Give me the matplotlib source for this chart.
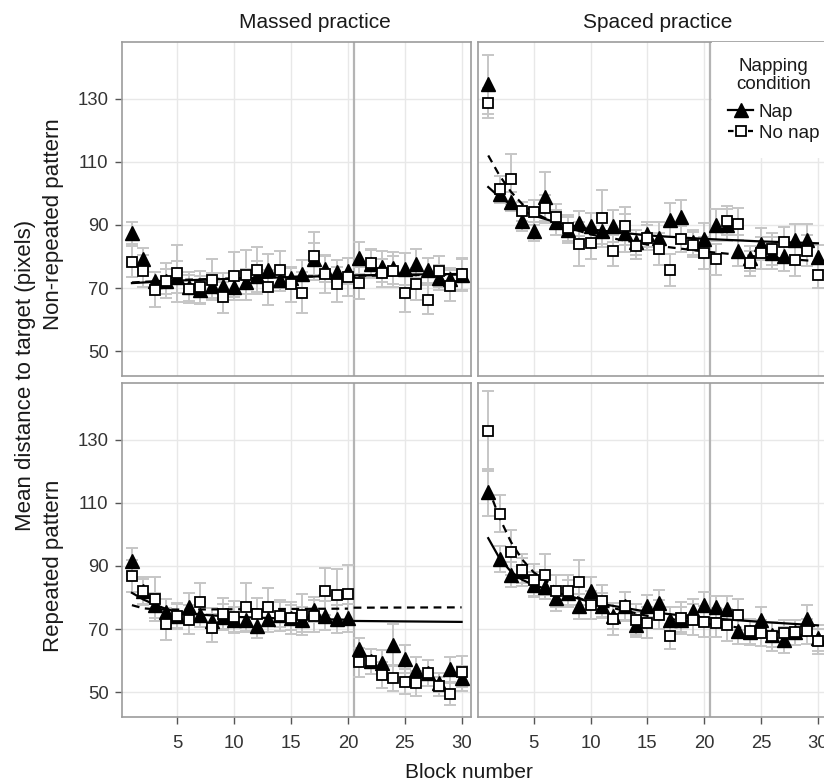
import numpy as np
import matplotlib
matplotlib.use('Agg')
import matplotlib.pyplot as plt
from matplotlib.lines import Line2D

plt.rcParams['font.family'] = ['Liberation Sans', 'DejaVu Sans']

W, H = 824, 784
blocks = np.arange(1, 31)

# massed practice, non-repeated pattern
mn_nap = [87.4, 79.1, 72.2, 72.2, 73.5, 70.5, 69.5, 70.8, 70.7, 70.3, 72.0, 73.7, 75.8, 72.7, 73.3,
          74.5, 79.3, 76.1, 75.0, 75.4, 79.5, 77.7, 76.8, 76.3, 76.1, 77.8, 75.6, 73.3, 73.0, 74.2]
mn_nap_err = [3.5, 3.5, 3.0, 4.0, 5.0, 4.5, 4.5, 4.0, 4.0, 3.0, 4.0, 5.0, 5.0, 3.5, 3.0,
              4.5, 5.0, 4.0, 4.0, 4.0, 5.0, 4.5, 5.0, 5.0, 5.0, 4.5, 4.0, 4.0, 3.5, 5.0]
mn_nonap = [78.4, 75.4, 69.5, 72.4, 74.7, 69.8, 70.3, 72.6, 67.1, 73.9, 74.2, 75.6, 70.3, 75.9, 71.2,
            68.6, 80.2, 74.5, 71.2, 73.5, 71.6, 77.9, 74.8, 75.3, 68.4, 71.4, 66.4, 75.3, 70.8, 74.5]
mn_nonap_err = [5.0, 5.0, 5.5, 5.5, 9.0, 4.5, 5.0, 6.5, 5.0, 7.5, 8.0, 7.5, 5.5, 6.0, 5.5,
                6.5, 7.5, 6.0, 5.5, 6.0, 5.0, 4.5, 4.5, 5.0, 6.0, 5.0, 4.5, 5.0, 5.0, 5.0]

# spaced practice, non-repeated pattern
sn_nap = [134.5, 99.8, 97.4, 91.1, 88.0, 98.7, 90.8, 88.4, 90.5, 89.7, 88.0, 89.7, 87.6, 84.5, 87.0,
          85.9, 91.6, 92.4, 84.5, 85.6, 90.0, 90.0, 81.9, 79.5, 84.0, 81.1, 80.3, 85.4, 85.4, 79.8]
sn_nap_err = [9.3, 3.0, 3.0, 3.0, 3.0, 8.0, 4.0, 4.0, 4.0, 4.0, 4.0, 5.0, 6.0, 4.0, 4.0,
              5.0, 5.5, 5.5, 4.0, 5.0, 5.0, 5.0, 5.0, 4.0, 5.0, 5.0, 5.0, 5.0, 5.0, 4.0]
sn_nonap = [128.5, 101.4, 104.5, 94.3, 94.0, 95.4, 92.6, 89.0, 84.0, 84.3, 92.1, 81.9, 89.8, 83.2, 86.0,
            82.4, 75.8, 85.6, 83.8, 81.2, 79.1, 91.4, 90.3, 77.9, 81.2, 82.4, 84.5, 78.9, 81.9, 74.2]
sn_nonap_err = [4.7, 4.0, 8.0, 3.0, 4.0, 4.0, 4.0, 4.0, 7.0, 5.0, 9.0, 5.0, 6.0, 4.0, 4.0,
                5.0, 5.0, 4.0, 4.0, 5.0, 5.0, 4.5, 5.0, 4.0, 5.0, 5.0, 5.0, 5.0, 5.0, 4.0]

# massed practice, repeated pattern
mr_nap = [91.6, 82.0, 77.5, 75.4, 74.3, 77.0, 74.6, 72.7, 73.9, 73.0, 73.0, 71.1, 73.2, 74.6, 73.6,
          73.0, 76.2, 74.3, 73.2, 73.6, 63.7, 59.8, 59.3, 65.1, 60.5, 57.1, 56.1, 53.1, 57.3, 54.5]
mr_nap_err = [4.0, 4.0, 4.0, 4.0, 4.0, 4.5, 4.0, 4.0, 4.0, 4.0, 4.0, 4.0, 4.0, 4.0, 4.0,
              4.0, 4.0, 4.5, 4.5, 4.5, 3.5, 4.0, 4.0, 6.5, 4.5, 4.0, 4.0, 3.0, 4.0, 4.0]
mr_nonap = [86.8, 82.0, 79.6, 71.7, 74.1, 73.0, 78.5, 70.4, 74.8, 73.9, 77.0, 74.8, 77.0, 74.3, 73.5,
            74.6, 74.1, 82.0, 80.7, 81.2, 59.5, 59.8, 55.5, 54.5, 53.4, 52.9, 56.1, 52.0, 49.5, 56.6]
mr_nonap_err = [5.0, 4.5, 7.0, 5.0, 4.0, 4.5, 6.0, 4.5, 5.0, 5.0, 7.5, 5.0, 6.0, 5.0, 5.0,
                6.5, 5.0, 7.5, 8.5, 9.0, 4.5, 4.0, 4.0, 4.0, 4.0, 4.0, 4.0, 3.0, 3.5, 5.0]

# spaced practice, repeated pattern
sr_nap = [113.3, 92.2, 87.2, 88.5, 84.1, 83.5, 79.8, 81.6, 77.2, 82.0, 77.4, 74.2, 77.2, 71.4, 77.2,
          78.3, 73.0, 73.0, 75.6, 77.7, 76.9, 76.4, 69.3, 69.0, 73.0, 68.2, 66.6, 69.0, 73.2, 67.2]
sr_nap_err = [7.5, 4.0, 4.0, 4.0, 4.0, 4.0, 4.0, 4.0, 4.0, 4.5, 4.0, 4.0, 4.5, 4.0, 3.5,
              4.0, 4.0, 4.0, 4.0, 4.0, 3.5, 4.0, 4.0, 4.0, 4.0, 4.0, 4.0, 4.0, 4.5, 4.0]
sr_nonap = [132.6, 106.6, 94.3, 88.8, 85.6, 87.2, 82.0, 82.0, 84.8, 77.7, 79.0, 73.3, 77.4, 73.0, 72.1,
            74.6, 67.7, 73.5, 73.0, 72.4, 72.1, 71.4, 74.6, 69.3, 68.8, 67.7, 68.8, 69.0, 69.3, 66.1]
sr_nonap_err = [12.7, 6.0, 7.0, 5.0, 5.0, 6.5, 5.0, 5.0, 7.0, 4.5, 5.0, 5.0, 4.5, 5.0, 5.0,
                4.5, 4.0, 5.0, 5.0, 5.0, 4.5, 5.0, 5.0, 4.0, 4.0, 4.5, 4.0, 4.0, 4.0, 4.0]

# fitted curves (segments split at the 20.5 break where they are)
mn_fit = {'nap': [([1, 5, 10, 15, 20, 25, 30], [71.6, 72.4, 73.0, 73.5, 74.0, 74.3, 74.5])],
          'nonap': [([1, 5, 10, 15, 20, 25, 30], [71.8, 72.6, 73.1, 73.6, 73.9, 74.1, 74.3])]}
fit_x_sp = [1, 2, 3, 4, 5, 7, 10, 15, 20, 25, 30]
sn_fit = {'nap': [(fit_x_sp, [102.0, 98.8, 96.5, 94.6, 93.0, 90.8, 88.6, 86.7, 85.6, 84.8, 84.2])],
          'nonap': [(fit_x_sp, [112.0, 105.6, 100.5, 96.6, 94.0, 90.3, 87.0, 83.8, 81.6, 79.9, 78.5])]}
mr_fit = {'nap': [([1, 2, 3, 4, 5, 7, 10, 15, 20], [81.5, 79.4, 77.8, 76.4, 75.5, 74.6, 73.9, 73.3, 73.0]),
                  ([20.5, 30], [72.6, 72.3])],
          'nonap': [([1, 2, 3, 5, 10, 15, 20], [77.6, 76.6, 76.3, 76.2, 76.3, 76.4, 76.5]),
                    ([20.5, 30], [76.8, 76.9])]}
sr_fit = {'nap': [(fit_x_sp, [98.8, 92.4, 88.2, 85.6, 84.0, 81.6, 78.6, 75.5, 73.6, 72.3, 71.2])],
          'nonap': [(fit_x_sp, [114.7, 105.2, 97.6, 92.0, 88.0, 83.0, 78.3, 74.2, 71.8, 69.7, 67.5])]}

panels = [
    (mn_nap, mn_nap_err, mn_nonap, mn_nonap_err, mn_fit),
    (sn_nap, sn_nap_err, sn_nonap, sn_nonap_err, sn_fit),
    (mr_nap, mr_nap_err, mr_nonap, mr_nonap_err, mr_fit),
    (sr_nap, sr_nap_err, sr_nonap, sr_nonap_err, sr_fit),
]

# panel boxes in pixels (left, top); the right column runs past the picture edge
boxes = [(121.7, 41.7), (478.0, 41.7), (121.7, 382.7), (478.0, 382.7)]
pw, ph = 349.0, 334.0

fig = plt.figure(figsize=(W / 100, H / 100), dpi=100)
err_col = '#c6c6c6'
axes = []
for i, (nap, nap_e, nonap, nonap_e, fit) in enumerate(panels):
    l, t = boxes[i]
    ax = fig.add_axes([l / W, 1 - (t + ph) / H, pw / W, ph / H])
    axes.append(ax)
    ax.set_xlim(0.1, 30.8)
    ax.set_ylim(42.3, 148)
    ax.set_xticks([5, 10, 15, 20, 25, 30])
    ax.set_yticks([50, 70, 90, 110, 130])
    ax.grid(True, color='#e8e8e8', lw=1.0, zorder=0)
    ax.set_axisbelow(True)
    ax.axvline(20.5, color='#b4b4b4', lw=1.6, zorder=1)
    for sp in ax.spines.values():
        sp.set_color('#9c9c9c')
        sp.set_linewidth(1.2)
    ax.tick_params(axis='both', length=5, width=1.0, color='#555555', labelsize=13.3,
                   labelcolor='#333333')
    ax.tick_params(axis='y', pad=4.5)
    ax.tick_params(axis='x', pad=8.0)
    if i in (1, 3):
        ax.tick_params(axis='y', left=False, labelleft=False)
    if i in (0, 1):
        ax.tick_params(axis='x', bottom=False, labelbottom=False)

    ax.errorbar(blocks, nonap, yerr=nonap_e, fmt='none', ecolor=err_col, elinewidth=1.4,
                capsize=4, capthick=1.4, zorder=2)
    ax.errorbar(blocks, nap, yerr=nap_e, fmt='none', ecolor=err_col, elinewidth=1.4,
                capsize=4, capthick=1.4, zorder=2)
    for fx, fy in fit['nap']:
        ax.plot(fx, fy, color='black', lw=1.6, zorder=3)
    for fx, fy in fit['nonap']:
        ax.plot(fx, fy, color='black', lw=1.6, ls=(0, (3.5, 2.5)), zorder=3)
    ax.plot(blocks, nap, ls='none', marker='^', ms=9.5, color='black', zorder=4)
    ax.plot(blocks, nonap, ls='none', marker='s', ms=7.5, mfc='white', mec='black',
            mew=1.3, zorder=5)


def ftext(x, y, s, **kw):
    fig.text(x / W, 1 - y / H, s, **kw)


txt_col = '#1a1a1a'
ftext(315, 28.3, 'Massed practice', ha='center', va='baseline', fontsize=15, color=txt_col)
ftext(658, 28.3, 'Spaced practice', ha='center', va='baseline', fontsize=15, color=txt_col)
ftext(469, 778, 'Block number', ha='center', va='baseline', fontsize=15, color=txt_col)
ftext(26, 375, 'Mean distance to target (pixels)', ha='center', va='center', rotation=90,
      fontsize=16, color=txt_col)
ftext(53.5, 224, 'Non-repeated pattern', ha='center', va='center', rotation=90,
      fontsize=16, color=txt_col)
ftext(53.5, 566, 'Repeated pattern', ha='center', va='center', rotation=90,
      fontsize=16, color=txt_col)

handles = [Line2D([], [], color='black', lw=1.6, marker='^', ms=9.5),
           Line2D([], [], color='black', lw=1.6, ls=(0, (2.5, 2.0)), marker='s', ms=7.5,
                  mfc='white', mec='black', mew=1.3)]
leg = axes[1].legend(handles, ['Nap', 'No nap'], title='Napping\ncondition', loc='upper left',
                     bbox_to_anchor=(712 / W, 1 - 41.7 / H), bbox_transform=fig.transFigure,
                     frameon=True, facecolor='white', edgecolor='none', framealpha=1,
                     fancybox=False, borderpad=0.85, handlelength=1.35, handletextpad=0.3,
                     labelspacing=0.22, fontsize=13.5, title_fontsize=13.5, borderaxespad=0)
leg.get_title().set_linespacing(1.12)
leg.get_title().set_multialignment('center')
leg.get_title().set_color(txt_col)
leg._legend_box.sep = 7.4  # wider gap between title and keys
for t in leg.get_texts():
    t.set_color(txt_col)

fig.savefig('out.png', dpi=100)
